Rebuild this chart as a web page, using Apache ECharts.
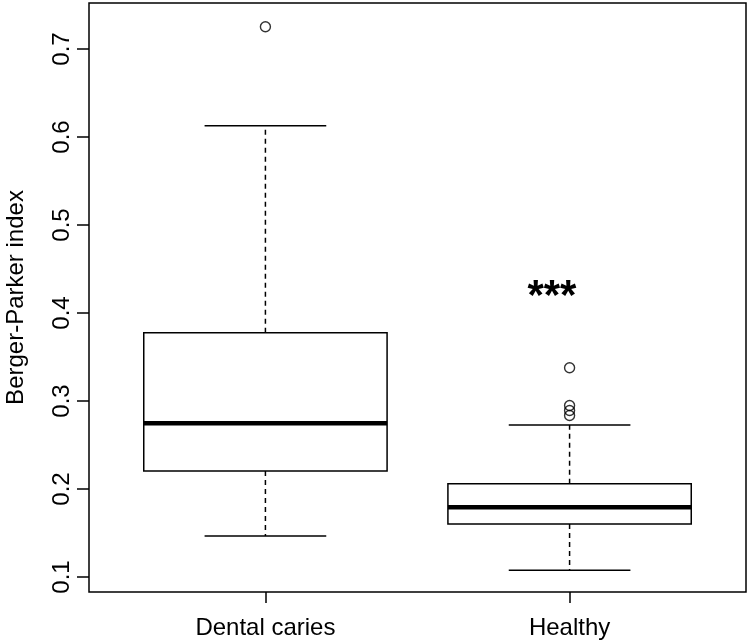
<!DOCTYPE html>
<html>
<head>
<meta charset="utf-8">
<script src="https://cdn.jsdelivr.net/npm/echarts@6/dist/echarts.min.js"></script>
<style>html,body{margin:0;padding:0;background:#fff}#c{width:750px;height:642px}</style>
</head>
<body>
<div id="c"></div>
<script>
var categories = ['Dental caries', 'Healthy'];
// [lower whisker, Q1, median, Q3, upper whisker]
var boxStats = [
  [0.1466, 0.2205, 0.2747, 0.3776, 0.6129],
  [0.1076, 0.1602, 0.1792, 0.2060, 0.2727]
];
var outliersCaries = [0.7253];
var outliersHealthy = [0.3378, 0.2949, 0.2892, 0.2835];
var yTicks = [0.1, 0.2, 0.3, 0.4, 0.5, 0.6, 0.7];
var yTitle = 'Berger-Parker index';
var signif = '***';
var signifPos = [1.942, 0.418];

var boxData = boxStats.map(function (s, i) { return [i + 1].concat(s); });
var outlierData = [];
outliersCaries.forEach(function (v) { outlierData.push([1, v]); });
outliersHealthy.forEach(function (v) { outlierData.push([2, v]); });

function renderBox(params, api) {
  var x = api.value(0);
  var lo = api.coord([x, api.value(1)]);
  var q1 = api.coord([x, api.value(2)]);
  var med = api.coord([x, api.value(3)]);
  var q3 = api.coord([x, api.value(4)]);
  var hi = api.coord([x, api.value(5)]);
  var bw = api.size([0.8, 0])[0];
  var cw = api.size([0.4, 0])[0];
  var cx = lo[0];
  var lineStyle = { stroke: '#000', lineWidth: 1.5, fill: null };
  var dashStyle = { stroke: '#000', lineWidth: 1.5, lineDash: [5, 4], fill: null };
  return {
    type: 'group',
    children: [
      { type: 'line', shape: { x1: cx, y1: q3[1], x2: cx, y2: hi[1] }, style: dashStyle },
      { type: 'line', shape: { x1: cx, y1: q1[1], x2: cx, y2: lo[1] }, style: dashStyle },
      { type: 'line', shape: { x1: cx - cw / 2, y1: hi[1], x2: cx + cw / 2, y2: hi[1] }, style: lineStyle },
      { type: 'line', shape: { x1: cx - cw / 2, y1: lo[1], x2: cx + cw / 2, y2: lo[1] }, style: lineStyle },
      { type: 'rect', shape: { x: cx - bw / 2, y: q3[1], width: bw, height: q1[1] - q3[1] }, style: { stroke: '#000', lineWidth: 1.5, fill: '#fff' } },
      { type: 'line', shape: { x1: cx - bw / 2, y1: med[1], x2: cx + bw / 2, y2: med[1] }, style: { stroke: '#000', lineWidth: 4.5 } }
    ]
  };
}

var chart = echarts.init(document.getElementById('c'), null, { renderer: 'canvas' });
chart.setOption({
  animation: false,
  backgroundColor: '#fff',
  grid: { left: 89, right: 4, top: 3, bottom: 50, containLabel: false, outerBoundsMode: 'none',
          show: true, borderColor: '#000', borderWidth: 1.5, backgroundColor: 'transparent' },
  xAxis: {
    type: 'value', min: 0.42, max: 2.58,
    splitLine: { show: false },
    axisLine: { show: false },
    axisTick: { show: true, customValues: [1, 2], length: 11, lineStyle: { color: '#000', width: 1.5 } },
    axisLabel: {
      customValues: [1, 2], margin: 24,
      formatter: function (v) { return categories[Math.round(v) - 1]; },
      fontFamily: 'Liberation Sans', fontSize: 24, color: '#000'
    }
  },
  yAxis: {
    type: 'value', min: 0.08295, max: 0.75227,
    name: yTitle, nameLocation: 'middle', nameGap: 61, nameRotate: 90,
    nameTextStyle: { fontFamily: 'Liberation Sans', fontSize: 24, color: '#000' },
    splitLine: { show: false },
    axisLine: { show: false },
    axisTick: { show: true, customValues: yTicks, length: 12, lineStyle: { color: '#000', width: 1.5 } },
    axisLabel: {
      customValues: yTicks, rotate: 90, margin: 15,
      formatter: function (v) { return v.toFixed(1); },
      fontFamily: 'Liberation Sans', fontSize: 24, color: '#000'
    }
  },
  series: [
    { type: 'custom', renderItem: renderBox, data: boxData, encode: { x: 0, y: [1, 2, 3, 4, 5] }, z: 2 },
    { type: 'scatter', data: outlierData, symbol: 'circle', symbolSize: 10,
      itemStyle: { color: 'rgba(0,0,0,0)', borderColor: '#000', borderWidth: 1.4 }, z: 3 },
    { type: 'scatter', data: [signifPos], symbol: 'circle', symbolSize: 2,
      itemStyle: { color: 'rgba(0,0,0,0)' },
      label: { show: true, position: 'inside', formatter: signif, fontFamily: 'Liberation Sans', fontSize: 42, fontWeight: 'bold',
               color: '#000', textBorderWidth: 0, textBorderColor: 'transparent', opacity: 1 }, z: 4 }
  ]
});
</script>
</body>
</html>
